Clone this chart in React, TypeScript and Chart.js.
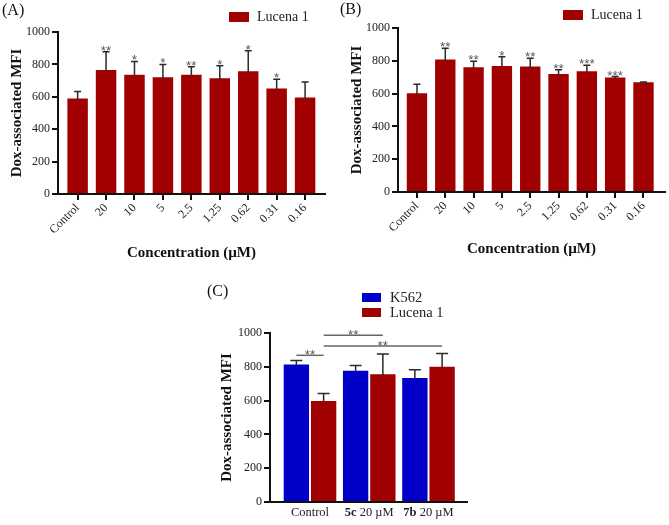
import React, { useEffect, useRef } from "react";
import { Chart, registerables } from "chart.js";

Chart.register(...registerables);

// ---------------- data ----------------
const concLabels = ["Control", "20", "10", "5", "2.5", "1.25", "0.62", "0.31", "0.16"];
const yTicks = [0, 200, 400, 600, 800, 1000];

const lucenaA = [590, 765, 736, 720, 736, 715, 757, 652, 596];
const lucenaAErr = [43, 113, 82, 80, 50, 77, 128, 57, 95];
const lucenaAStars = ["", "**", "*", "*", "**", "*", "*", "*", ""];

const lucenaB = [602, 808, 761, 769, 765, 720, 737, 698, 669];
const lucenaBErr = [55, 68, 37, 55, 51, 25, 36, 6, 2];
const lucenaBStars = ["", "**", "**", "*", "**", "**", "***", "***", ""];

const groupBold = ["", "5c", "7b"];
const groupRest = ["Control", " 20 µM", " 20 µM"];
const k562C = [813, 776, 734];
const k562CErr = [24, 31, 49];
const lucenaC = [598, 756, 801];
const lucenaCErr = [44, 120, 77];
// brackets: [datasetIndex, categoryIndex] -> [datasetIndex, categoryIndex] at value level
const bracketFrom = [[0, 0], [1, 0], [1, 0]];
const bracketTo = [[1, 0], [1, 1], [1, 2]];
const bracketLevel = [868, 986, 923];
const bracketLabel = ["**", "**", "**"];

const RED = "#a00000";
const BLUE = "#0000c8";
const SERIF = '"Liberation Serif", "Times New Roman", serif';
const SANS = '"Liberation Sans", Arial, sans-serif';

Chart.defaults.font.family = SERIF;
Chart.defaults.color = "#222";

type Decor = {
  panel: string;
  panelX: number;
  panelY: number;
  legendX: number;
  legendY: number;
  boxW: number;
  boxH: number;
  rowGap: number;
  textGap: number;
  legendFont: string;
  errors: number[][];
  capHalf: number;
  stars?: string[];
  brackets?: boolean;
  richTicksY?: number;
};

function makeDecor(d: Decor) {
  return {
    id: "decor",
    afterDatasetsDraw(chart: any) {
      const ctx = chart.ctx as CanvasRenderingContext2D;
      const ys = chart.scales.y;
      ctx.save();
      // error bars + stars
      chart.data.datasets.forEach((ds: any, di: number) => {
        const meta = chart.getDatasetMeta(di);
        const errs = d.errors[di] || [];
        meta.data.forEach((bar: any, i: number) => {
          const v = ds.data[i].y;
          const e = errs[i] || 0;
          const top = ys.getPixelForValue(v + e);
          ctx.strokeStyle = "#2a2a2a";
          ctx.lineWidth = 1.5;
          ctx.beginPath();
          ctx.moveTo(bar.x, bar.y + 1);
          ctx.lineTo(bar.x, top);
          ctx.moveTo(bar.x - d.capHalf, top);
          ctx.lineTo(bar.x + d.capHalf, top);
          ctx.stroke();
          if (d.stars && d.stars[i]) {
            ctx.fillStyle = "#555";
            ctx.font = "13.5px " + SANS;
            ctx.textAlign = "center";
            ctx.textBaseline = "alphabetic";
            ctx.fillText(d.stars[i], bar.x, top + 3);
          }
        });
      });
      // brackets
      if (d.brackets) {
        bracketLevel.forEach((lvl, k) => {
          const a = chart.getDatasetMeta(bracketFrom[k][0]).data[bracketFrom[k][1]];
          const b = chart.getDatasetMeta(bracketTo[k][0]).data[bracketTo[k][1]];
          const y = ys.getPixelForValue(lvl);
          ctx.strokeStyle = "#666";
          ctx.lineWidth = 1.5;
          ctx.beginPath();
          ctx.moveTo(a.x, y);
          ctx.lineTo(b.x, y);
          ctx.stroke();
          ctx.fillStyle = "#555";
          ctx.font = "13.5px " + SANS;
          ctx.textAlign = "center";
          ctx.textBaseline = "alphabetic";
          ctx.fillText(bracketLabel[k], (a.x + b.x) / 2, y + 3.5);
        });
      }
      ctx.restore();
    },
    afterDraw(chart: any) {
      const ctx = chart.ctx as CanvasRenderingContext2D;
      ctx.save();
      // panel letter
      ctx.fillStyle = "#111";
      ctx.font = "16px " + SERIF;
      ctx.textAlign = "left";
      ctx.textBaseline = "alphabetic";
      ctx.fillText(d.panel, d.panelX, d.panelY);
      // legend
      chart.data.datasets.forEach((ds: any, di: number) => {
        const y = d.legendY + di * d.rowGap;
        ctx.fillStyle = ds.backgroundColor;
        ctx.fillRect(d.legendX, y, d.boxW, d.boxH);
        ctx.fillStyle = "#222";
        ctx.font = d.legendFont;
        ctx.textAlign = "left";
        ctx.textBaseline = "middle";
        ctx.fillText(ds.label, d.legendX + d.boxW + d.textGap, y + d.boxH / 2 + 0.5);
      });
      // rich x tick labels (bold part + regular part)
      if (d.richTicksY !== undefined) {
        const xs = chart.scales.x;
        groupRest.forEach((rest, i) => {
          const cx = xs.getPixelForValue(i);
          const boldFont = "bold 12.5px " + SERIF;
          const normFont = "12.5px " + SERIF;
          ctx.font = boldFont;
          const wb = ctx.measureText(groupBold[i]).width;
          ctx.font = normFont;
          const wr = ctx.measureText(rest).width;
          let x = cx - (wb + wr) / 2;
          ctx.textAlign = "left";
          ctx.textBaseline = "middle";
          ctx.fillStyle = "#222";
          if (groupBold[i]) {
            ctx.font = boldFont;
            ctx.fillText(groupBold[i], x, d.richTicksY!);
            x += wb;
          }
          ctx.font = normFont;
          ctx.fillText(rest, x, d.richTicksY!);
        });
      }
      ctx.restore();
    },
  };
}

function yScale(width: number, titlePad: number) {
  return {
    type: "linear",
    min: 0,
    max: 1000,
    afterBuildTicks: (s: any) => {
      s.ticks = yTicks.map((v) => ({ value: v }));
    },
    afterFit: (s: any) => {
      s.width = width;
    },
    border: { display: true, color: "#111", width: 2 },
    grid: { drawOnChartArea: false, drawTicks: true, tickLength: 6, tickWidth: 2, tickColor: "#111", lineWidth: 2, color: "#111" },
    ticks: { font: { size: 12, family: SERIF }, color: "#222", padding: 2, callback: (v: any) => String(v) },
    title: {
      display: true,
      text: "Dox-associated MFI",
      font: { size: 15, weight: "bold", family: SERIF },
      color: "#111",
      padding: { top: titlePad, bottom: 0 },
    },
  };
}

function concConfig(values: number[], errs: number[], stars: string[], o: any) {
  return {
    type: "bar",
    data: {
      datasets: [
        {
          label: "Lucena 1",
          data: values.map((v, i) => ({ x: i, y: v })),
          backgroundColor: RED,
          borderWidth: 0,
          categoryPercentage: 0.72,
          barPercentage: 1,
        },
      ],
    },
    options: {
      responsive: false,
      animation: false,
      devicePixelRatio: 1,
      layout: { padding: { left: 0, top: o.padTop, right: o.padRight, bottom: 0 } },
      plugins: { legend: { display: false }, tooltip: { enabled: false }, title: { display: false } },
      scales: {
        x: {
          type: "linear",
          min: o.xmin,
          max: o.xmax,
          offset: false,
          afterBuildTicks: (s: any) => {
            s.ticks = concLabels.map((_, i) => ({ value: i }));
          },
          afterFit: (s: any) => {
            s.height = o.xHeight;
          },
          border: { display: true, color: "#111", width: 2 },
          grid: { offset: false, drawOnChartArea: false, drawTicks: true, tickLength: 6, tickWidth: 2, tickColor: "#111", lineWidth: 2, color: "#111" },
          ticks: {
            autoSkip: false,
            minRotation: 45,
            maxRotation: 45,
            padding: 1,
            font: { size: 12, family: SERIF },
            color: "#222",
            callback: (v: any) => concLabels[v] ?? "",
          },
          title: {
            display: true,
            text: "Concentration (µM)",
            font: { size: 15, weight: "bold", family: SERIF },
            color: "#111",
            padding: { top: 0, bottom: o.xTitlePad },
          },
        },
        y: yScale(o.yWidth, o.yTitlePad),
      },
    },
    plugins: [
      makeDecor({
        panel: o.panel,
        panelX: o.panelX,
        panelY: o.panelY,
        legendX: o.legendX,
        legendY: o.legendY,
        boxW: 20,
        boxH: 10,
        rowGap: 15,
        textGap: 8,
        legendFont: "14px " + SERIF,
        errors: [errs],
        capHalf: 3.5,
        stars,
      }),
    ],
  };
}

function groupConfig() {
  return {
    type: "bar",
    data: {
      datasets: [
        {
          label: "K562",
          data: k562C.map((v, i) => ({ x: i, y: v })),
          backgroundColor: BLUE,
          borderWidth: 0,
          categoryPercentage: 0.92,
          barPercentage: 0.93,
        },
        {
          label: "Lucena 1",
          data: lucenaC.map((v, i) => ({ x: i, y: v })),
          backgroundColor: RED,
          borderWidth: 0,
          categoryPercentage: 0.92,
          barPercentage: 0.93,
        },
      ],
    },
    options: {
      responsive: false,
      animation: false,
      devicePixelRatio: 1,
      layout: { padding: { left: 0, top: 55, right: 13, bottom: 0 } },
      plugins: { legend: { display: false }, tooltip: { enabled: false }, title: { display: false } },
      scales: {
        x: {
          type: "linear",
          min: -0.675,
          max: 2.65,
          offset: false,
          afterBuildTicks: (s: any) => {
            s.ticks = groupRest.map((_, i) => ({ value: i }));
          },
          afterFit: (s: any) => {
            s.height = 23;
          },
          border: { display: true, color: "#111", width: 2 },
          grid: { offset: false, drawOnChartArea: false, drawTicks: false },
          ticks: { display: false },
        },
        y: yScale(80, 28),
      },
    },
    plugins: [
      makeDecor({
        panel: "(C)",
        panelX: 17,
        panelY: 18,
        legendX: 172,
        legendY: 15,
        boxW: 19,
        boxH: 9,
        rowGap: 15,
        textGap: 9,
        legendFont: "14.5px " + SERIF,
        errors: [k562CErr, lucenaCErr],
        capHalf: 6,
        brackets: true,
        richTicksY: 235,
      }),
    ],
  };
}

function ChartBox(props: { left: number; top: number; width: number; height: number; build: () => any }) {
  const ref = useRef<HTMLCanvasElement>(null);
  useEffect(() => {
    const chart = new Chart(ref.current as HTMLCanvasElement, props.build());
    return () => chart.destroy();
  }, []);
  return (
    <div style={{ position: "absolute", left: props.left, top: props.top, width: props.width, height: props.height }}>
      <canvas
        ref={ref}
        width={props.width}
        height={props.height}
        style={{ display: "block", width: props.width, height: props.height }}
      />
    </div>
  );
}

export default function App() {
  return (
    <div style={{ position: "absolute", left: 0, top: 0, width: 669, height: 525, background: "#fff" }}>
      <ChartBox
        left={0}
        top={0}
        width={335}
        height={268}
        build={() =>
          concConfig(lucenaA, lucenaAErr, lucenaAStars, {
            panel: "(A)",
            panelX: 2,
            panelY: 14.5,
            legendX: 229,
            legendY: 12,
            padTop: 32,
            padRight: 10,
            xHeight: 74,
            xTitlePad: 6,
            yWidth: 58,
            yTitlePad: 8,
            xmin: -0.69,
            xmax: 8.7,
          })
        }
      />
      <ChartBox
        left={335}
        top={0}
        width={334}
        height={268}
        build={() =>
          concConfig(lucenaB, lucenaBErr, lucenaBStars, {
            panel: "(B)",
            panelX: 5,
            panelY: 14,
            legendX: 228,
            legendY: 10,
            padTop: 28,
            padRight: 4,
            xHeight: 76,
            xTitlePad: 10,
            yWidth: 63,
            yTitlePad: 13,
            xmin: -0.67,
            xmax: 8.76,
          })
        }
      />
      <ChartBox left={190} top={278} width={290} height={247} build={groupConfig} />
    </div>
  );
}
